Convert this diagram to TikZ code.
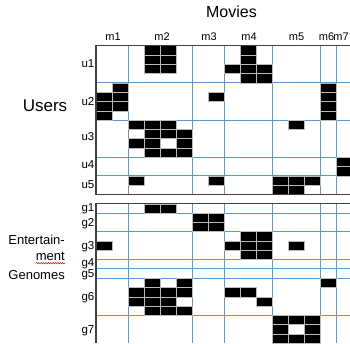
\documentclass[tikz,border=0pt]{standalone}
\usepackage{fontspec}
\setmainfont{Liberation Sans}
\usetikzlibrary{decorations.pathmorphing}
\definecolor{gridblue}{RGB}{86,152,208}
\definecolor{framegray}{RGB}{64,64,64}
\definecolor{sepgray}{RGB}{185,185,185}

\begin{document}
\begin{tikzpicture}[x=1pt,y=-1pt,
  lbl/.style={inner sep=0pt,font=\fontsize{11.5}{12}\selectfont},
  head/.style={inner sep=0pt,font=\fontsize{16}{18}\selectfont},
  side/.style={inner sep=0pt,anchor=east,font=\fontsize{13}{15}\selectfont},
  gridline/.style={gridblue,line width=0.9pt},
  frame/.style={framegray,line width=1.2pt},
  cell/.style={fill=black,draw=sepgray,line width=0.6pt}]
  \useasboundingbox (0,0) rectangle (350,343);
  \clip (0,0) rectangle (350,343);

  \node[head] (movies) at (231.5,12) {Movies};
  \foreach \n/\x in {1/113,2/162,3/209,4/249,5/296.5,6/326.5,7/341}
    \node[lbl,font=\fontsize{11}{12}\selectfont] (m\n) at (\x,36.5) {m\n};

  \node[head,font=\fontsize{17}{19}\selectfont] (users) at (45,106) {Users};
  \foreach \n/\y in {1/64,2/101.7,3/136.7,4/165,5/185}
    \node[lbl,anchor=east] (u\n) at (94.5,\y) {u\n};

  \node[side] (ent1) at (65,240.3) {Entertain-};
  \node[side] (ent2) at (65,256.7) {ment};
  \node[side] (ent3) at (65,274.7) {Genomes};
  \draw[red,line width=0.5pt,decorate,decoration={snake,amplitude=0.7pt,segment length=2.4pt}]
    ([yshift=-2pt]ent2.south west) -- ([yshift=-2pt]ent2.south east);
  \foreach \n/\y in {1/209,2/224,3/247,4/263.8,5/275,6/297.5,7/331}
    \node[lbl,anchor=east] (g\n) at (94.5,\y) {g\n};

  \begin{scope}[shift={(96,45.7)},x=16pt,y=-9.3pt]
    \foreach \c in {2,6,8,11,14,15} {
      \draw[gridline] (\c,0) -- (\c,16);
      \draw[gridline] (\c,17) -- (\c,32);
    }
    \foreach \r in {4,8,12,14,18,20,23,24,25,29}
      \draw[gridline] (0,\r) -- (16,\r);

    % users x movies
    \foreach \c/\r in {3/0,4/0,3/1,4/1,3/2,4/2,9/0,9/1,8/2,9/2,10/2,9/3,10/3,
                       1/4,0/5,1/5,0/6,1/6,0/7,7/5,14/4,14/5,14/6,14/7,
                       2/8,3/8,4/8,3/9,4/9,5/9,2/10,3/10,5/10,3/11,4/11,5/11,12/8,
                       15/12,15/13,
                       2/14,7/14,11/14,12/14,13/14,11/15,12/15}
      \path[cell] (\c,\r) rectangle ++(1,1);

    % genomes x movies
    \foreach \c/\r in {3/17,4/17,6/18,7/18,6/19,7/19,
                       9/20,10/20,0/21,8/21,9/21,10/21,12/21,9/22,10/22,
                       3/25,5/25,14/25,2/26,3/26,4/26,5/26,8/26,9/26,
                       2/27,3/27,4/27,10/27,3/28,4/28,5/28,
                       11/29,12/29,13/29,11/30,13/30,11/31,12/31,13/31}
      \path[cell] (\c,\r) rectangle ++(1,1);

    \draw[frame] (16,0) -- (0,0) -- (0,16) -- (16,16);
    \draw[frame] (16,17) -- (0,17) -- (0,32);
  \end{scope}
\end{tikzpicture}
\end{document}
